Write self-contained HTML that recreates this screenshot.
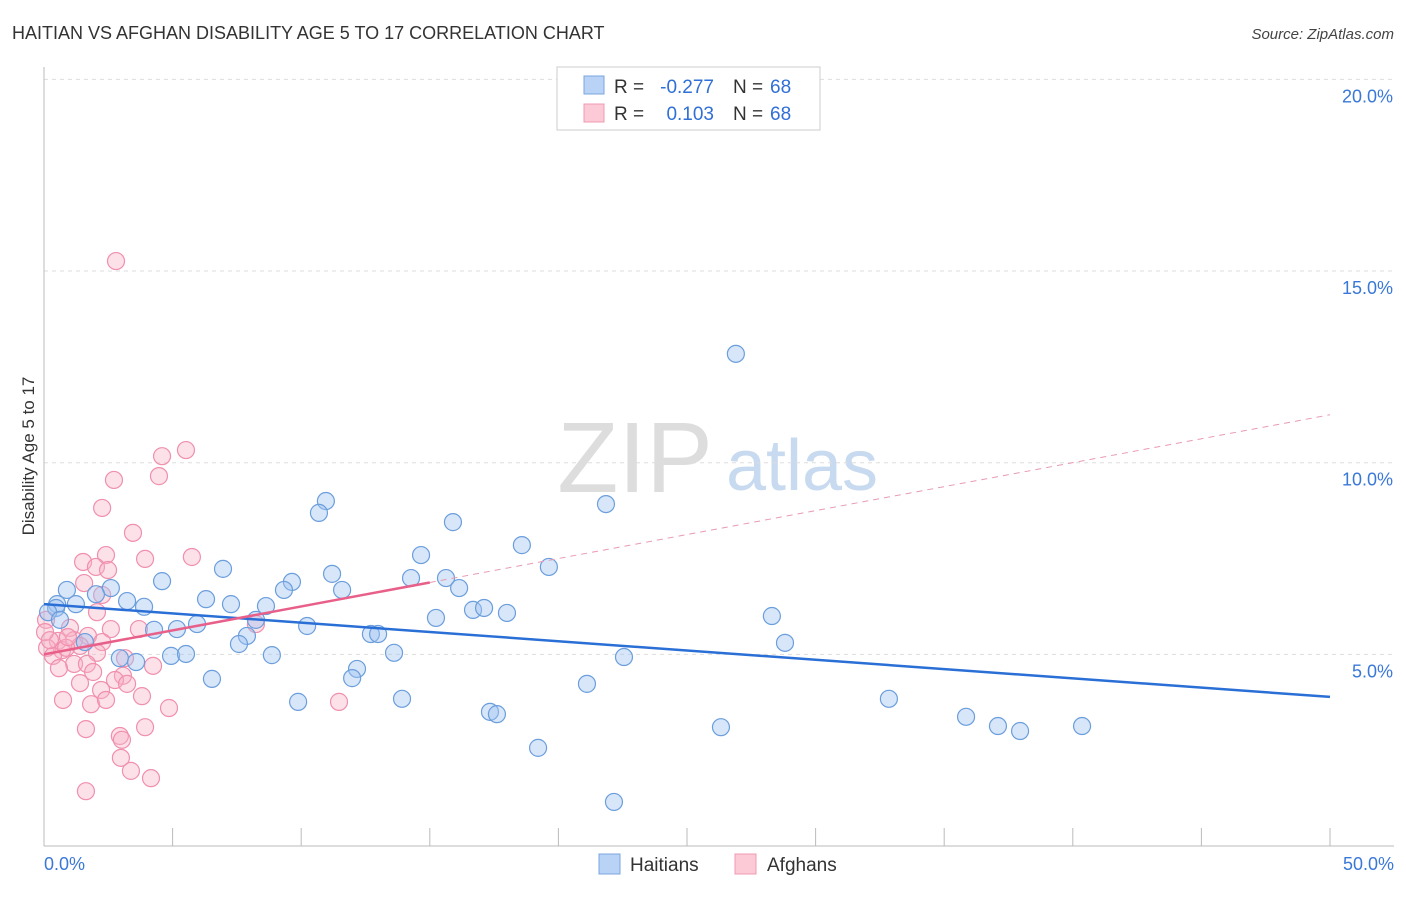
<!DOCTYPE html>
<html><head><meta charset="utf-8"><style>
body{margin:0;background:#fff;font-family:"Liberation Sans",sans-serif;}
svg text{font-family:"Liberation Sans",sans-serif;}
</style></head><body>
<svg width="1406" height="892" xmlns="http://www.w3.org/2000/svg">
<text x="12" y="39" font-size="18" fill="#333">HAITIAN VS AFGHAN DISABILITY AGE 5 TO 17 CORRELATION CHART</text>
<text x="1394" y="39" font-size="15" fill="#444" font-style="italic" text-anchor="end">Source: ZipAtlas.com</text>
<g>
<text x="635" y="492" font-size="100" fill="#ddd" font-family="Liberation Serif,serif" text-anchor="middle">ZIP</text>
<text x="802" y="490" font-size="72" fill="#c8daf0" text-anchor="middle">atlas</text>
</g>
<g id="grid"></g>
<g id="axes"></g>
<g id="marks"></g>
<g>
<rect x="557" y="67" width="263" height="63" fill="#fff" stroke="#ccc"/>
<rect x="584" y="76" width="20" height="18" fill="#b8d3f5" stroke="#7aa6de"/>
<rect x="584" y="104" width="20" height="18" fill="#fcc9d7" stroke="#f19ab3"/>
<text x="614" y="93" font-size="19" fill="#333">R =</text>
<text x="714" y="93" font-size="19" fill="#2f6fd6" text-anchor="end">-0.277</text>
<text x="733" y="93" font-size="19" fill="#333">N =</text>
<text x="770" y="93" font-size="19" fill="#2f6fd6">68</text>
<text x="614" y="120" font-size="19" fill="#333">R =</text>
<text x="714" y="120" font-size="19" fill="#2f6fd6" text-anchor="end">0.103</text>
<text x="733" y="120" font-size="19" fill="#333">N =</text>
<text x="770" y="120" font-size="19" fill="#2f6fd6">68</text>
</g>
<g>
<rect x="599" y="854" width="21" height="20" fill="#b8d3f5" stroke="#7aa6de"/>
<text x="630" y="871" font-size="19" fill="#333">Haitians</text>
<rect x="735" y="854" width="21" height="20" fill="#fcc9d7" stroke="#f19ab3"/>
<text x="767" y="871" font-size="19" fill="#333">Afghans</text>
</g>
<text transform="translate(34,456) rotate(-90)" font-size="17" fill="#333" text-anchor="middle">Disability Age 5 to 17</text>
</svg>
<script>
const blueX=[26.9,21.85,10.96,10.69,15.9,18.58,14.66,19.63,6.96,11.2,4.59,9.64,14.27,15.63,2.6,0.89,9.33,16.14,11.59,2.02,6.3,0.51,1.24,3.23,3.89,7.27,8.63,16.68,17.11,18.0,0.47,15.24,28.3,8.24,5.95,10.23,4.28,5.17,12.71,12.99,1.59,7.89,7.58,28.81,2.95,3.58,4.94,5.52,8.86,13.61,22.55,12.17,11.98,6.53,21.11,9.88,13.92,32.85,17.34,17.61,35.85,26.32,37.09,37.95,40.36,19.21,22.16,0.16,0.62];
const blueY=[12.84,8.92,9.0,8.69,8.45,7.85,7.59,7.28,7.23,7.1,6.91,6.89,6.99,6.99,6.73,6.68,6.68,6.73,6.68,6.57,6.44,6.31,6.31,6.39,6.24,6.31,6.26,6.16,6.21,6.08,6.21,5.95,6.0,5.9,5.79,5.74,5.64,5.66,5.53,5.53,5.32,5.48,5.27,5.3,4.9,4.8,4.96,5.01,4.98,5.04,4.93,4.62,4.38,4.36,4.23,3.76,3.84,3.84,3.5,3.44,3.37,3.1,3.13,3.0,3.13,2.56,1.15,6.1,5.9];
const pinkX=[2.8,5.52,4.59,4.47,2.72,2.26,3.46,2.41,5.75,3.93,1.52,2.02,2.49,1.56,2.26,2.06,0.08,1.01,2.6,3.69,0.54,1.17,1.71,2.26,8.24,1.4,0.7,0.12,0.35,0.86,2.06,3.15,4.24,1.17,0.58,1.67,1.91,3.07,1.4,2.76,3.23,2.22,0.74,1.83,2.41,3.81,4.86,11.47,1.63,3.93,2.95,3.03,2.99,3.38,4.16,1.63,0.04,0.23,0.93];
const pinkY=[15.26,10.33,10.17,9.65,9.55,8.82,8.17,7.59,7.54,7.49,7.41,7.28,7.2,6.86,6.55,6.1,5.9,5.69,5.66,5.66,5.35,5.37,5.48,5.32,5.79,5.22,5.11,5.17,4.96,5.17,5.04,4.9,4.7,4.75,4.64,4.75,4.54,4.44,4.25,4.33,4.23,4.07,3.81,3.7,3.81,3.91,3.6,3.76,3.05,3.1,2.87,2.77,2.3,1.96,1.77,1.43,5.58,5.37,5.45];
const yTicks=[5,10,15,20];
const yTickLabels=["5.0%","10.0%","15.0%","20.0%"];
const xTickVals=[0,5,10,15,20,25,30,35,40,45,50];
const xEndLabels=["0.0%","50.0%"];
const blueTrend=[6.31,3.89];
const pinkTrend=[5.0,11.25];
const pinkSolidEnd=15;

const NS="http://www.w3.org/2000/svg";
const sx=v=>44+v*25.72, sy=v=>846-v*38.33;
function mk(tag,attrs,parent){const e=document.createElementNS(NS,tag);for(const k in attrs)e.setAttribute(k,attrs[k]);parent.appendChild(e);return e;}
const grid=document.getElementById('grid'),axes=document.getElementById('axes'),marks=document.getElementById('marks');
yTicks.forEach((t,i)=>{
 const l=mk('line',{x1:44,x2:1394,y1:sy(t),y2:sy(t),stroke:'#ddd','stroke-dasharray':'4,4'},grid);
 
 
 const tx=mk('text',{x:1393,y:sy(t)+23,'font-size':18,fill:'#3a78d8','text-anchor':'end'},grid);
 tx.textContent=yTickLabels[i];
 
 
});
const yl=mk('line',{x1:44,x2:44,y1:67,y2:846,stroke:'#bbb'},axes);


const xl=mk('line',{x1:44,x2:1394,y1:846,y2:846,stroke:'#bbb'},axes);


xTickVals.forEach(v=>{
 const t=mk('line',{x1:sx(v),x2:sx(v),y1:828,y2:846,stroke:'#bbb'},axes);
 
 
});
const xa=mk('text',{x:44,y:870,'font-size':18,fill:'#3a78d8'},axes);xa.textContent=xEndLabels[0];


const xb=mk('text',{x:1394,y:870,'font-size':18,fill:'#3a78d8','text-anchor':'end'},axes);xb.textContent=xEndLabels[1];


pinkX.forEach((x,i)=>{
 const c=mk('circle',{cx:sx(x),cy:sy(pinkY[i]),r:8.5,fill:'rgba(248,176,198,0.38)',stroke:'#f08fae','stroke-width':1.2},marks);
 
 
});
blueX.forEach((x,i)=>{
 const c=mk('circle',{cx:sx(x),cy:sy(blueY[i]),r:8.5,fill:'rgba(160,196,240,0.42)',stroke:'#6b9edc','stroke-width':1.2},marks);
 
 
});
const bt=mk('line',{x1:sx(0),y1:sy(blueTrend[0]),x2:sx(50),y2:sy(blueTrend[1]),stroke:'#2a6fd6','stroke-width':2.5},marks);


const pv=x=>pinkTrend[0]+(pinkTrend[1]-pinkTrend[0])*x/50;
const pd=mk('line',{x1:sx(pinkSolidEnd),y1:sy(pv(pinkSolidEnd)),x2:sx(50),y2:sy(pinkTrend[1]),stroke:'#e89ab2','stroke-width':1,'stroke-dasharray':'6,5'},marks);


const pt=mk('line',{x1:sx(0),y1:sy(pinkTrend[0]),x2:sx(pinkSolidEnd),y2:sy(pv(pinkSolidEnd)),stroke:'#e8608a','stroke-width':2.5},marks);


</script>
</body></html>
